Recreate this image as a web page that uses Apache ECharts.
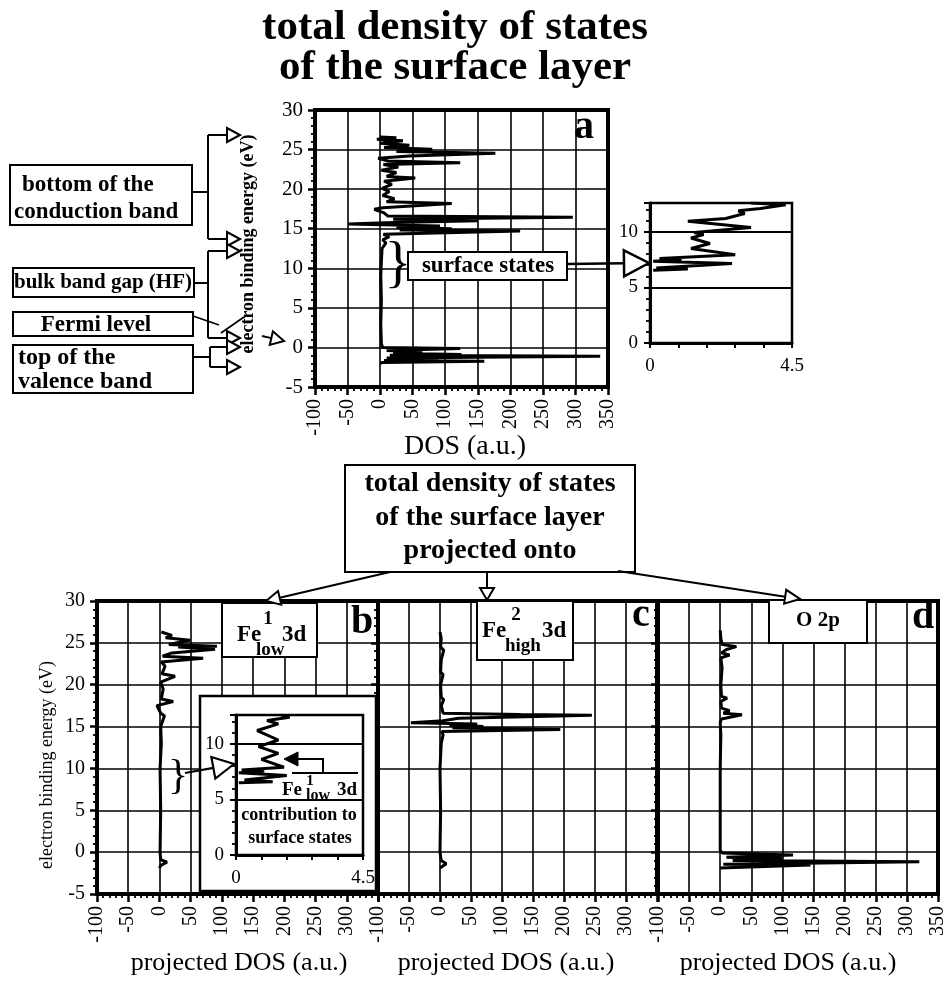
<!DOCTYPE html>
<html><head><meta charset="utf-8">
<script src="https://cdn.jsdelivr.net/npm/echarts@6.0.0/dist/echarts.min.js"></script>
<style>html,body{margin:0;padding:0;background:#fff;}#chart{width:952px;height:983px;}</style>
</head><body><div id="chart"></div>
<script>
const SERIF = '"Liberation Serif","Times New Roman",Times,serif';

// ---------- DATA: [DOS (a.u.), electron binding energy (eV)] ----------
const dosRange = [-100, 350];          // x range of main panels
const dosStep = 50;
const energyRange = [-5, 30];          // y range of main panels
const energyStep = 5;
const insetDosRange = [0, 4.5];
const insetDosStep = 0.9;
const insetEnergyRange = [0, 12.6];

const totalDOS_a = [
  [0,-2.0],[4,-1.9],[160,-1.75],[6,-1.65],[90,-1.5],[10,-1.35],[338,-1.1],[15,-1.0],[125,-0.9],[20,-0.75],
  [65,-0.55],[10,-0.4],[123,-0.15],[4,0.0],[2,0.4],[1,3],[2,6],[1,9],[2,11],[3,12.5],[9,13.2],[4,13.6],
  [14,14.0],[5,14.3],[215,14.7],[30,14.85],[110,15.0],[25,15.15],[92,15.35],[-49,15.6],[8,15.75],[150,16.0],
  [20,16.2],[296,16.45],[12,16.6],[6,17.0],[-9,17.45],[4,17.65],[110,18.2],[10,18.4],[22,18.8],[4,19.2],
  [14,19.7],[3,20.1],[18,20.6],[6,21.0],[54,21.4],[10,21.6],[25,22.1],[2,22.4],[28,22.8],[5,23.1],
  [123,23.35],[12,23.55],[-3,23.9],[45,24.2],[177,24.55],[25,24.75],[80,25.05],[6,25.25],[45,25.55],
  [0,25.8],[35,26.1],[-5,26.3],[25,26.5],[0,26.6]
];
const surfaceInset_a = [
  [0.1,6.55],[1.2,6.65],[0.2,6.75],[2.6,7.15],[0.1,7.35],[1.0,7.5],[0.3,7.6],[2.7,7.95],[1.3,8.5],
  [1.9,8.95],[1.3,9.45],[1.7,9.75],[1.4,9.95],[3.2,10.4],[1.2,10.95],[2.4,11.2],[3.0,11.65],[2.8,11.9],
  [3.5,12.1],[4.3,12.45],[3.2,12.6]
];
const fe1low_b = [
  [0,-1.9],[2,-1.6],[12,-1.2],[2,-0.9],[1,0],[2,5],[1,10],[3,13],[2,15],[8,16.3],[2,16.6],[-4,17.5],
  [22,18.0],[3,18.3],[6,19.5],[2,20.3],[25,21.0],[4,21.3],[9,22.2],[3,22.7],[70,23.15],[5,23.4],[20,23.8],
  [89,24.25],[30,24.5],[92,24.6],[15,24.8],[49,25.3],[10,25.6],[20,25.9],[3,26.3]
];
const fe1lowInset_b = [
  [0.1,6.5],[1.3,6.6],[0.3,6.75],[1.8,7.15],[0.1,7.4],[1.0,7.55],[0.2,7.65],[1.7,7.9],[0.9,8.6],[1.5,9.15],
  [0.8,9.75],[1.5,10.35],[0.75,11.2],[1.5,11.8],[1.1,12.1],[1.9,12.4],[1.6,12.6]
];
const fe2high_c = [
  [0,-1.9],[10,-1.4],[2,-1.0],[0,0],[1,5],[0,10],[2,13],[5,14.0],[3,14.4],[194,14.65],[20,14.85],[70,15.0],
  [15,15.2],[60,15.3],[-47,15.45],[5,15.7],[30,16.0],[245,16.35],[130,16.45],[5,16.6],[2,17.5],[6,18.2],
  [2,18.5],[1,20],[5,21.2],[1,21.5],[2,23],[6,24.1],[1,24.5],[2,25.5],[0,26.3]
];
const o2p_d = [
  [0,-1.9],[3,-1.75],[145,-1.55],[5,-1.45],[320,-1.15],[20,-1.0],[100,-0.75],[10,-0.6],[117,-0.35],[3,-0.1],
  [0,0.2],[0,5],[0,10],[1,14],[0,15.5],[2,15.9],[35,16.4],[5,16.6],[15,16.9],[2,17.2],[1,18.0],[11,18.4],
  [2,18.6],[1,20],[3,22],[1,23.2],[15,23.55],[2,23.8],[10,24.2],[26,24.55],[3,24.8],[1,25.5],[0,26.5]
];

// ---------- LAYOUT ----------
const chart = echarts.init(document.getElementById('chart'), null, {renderer:'canvas'});

function gridBox(left, top, width, height, bw, z) {
  return {left, top, width, height, show:true, borderColor:'#000', borderWidth:bw,
          backgroundColor:'transparent', containLabel:false, outerBoundsMode:'none', z:z||0};
}
function mainX(gi, showMax) {
  return {type:'value', gridIndex:gi, min:dosRange[0], max:dosRange[1], interval:dosStep,
    axisLine:{show:true, onZero:false, lineStyle:{color:'#000', width:4}},
    axisTick:{show:true, length:8, lineStyle:{color:'#000', width:2.5}},
    minorTick:{show:true, splitNumber:5, length:4, lineStyle:{color:'#000', width:1.8}},
    splitLine:{show:true, lineStyle:{color:'#000', width:1.6}},
    axisLabel:{rotate:90, fontSize:20, color:'#000', margin:12, showMaxLabel:showMax, showMinLabel:true, fontFamily:SERIF}};
}
function mainY(gi, showLabel, fs) {
  return {type:'value', gridIndex:gi, min:energyRange[0], max:energyRange[1], interval:energyStep,
    axisLine:{show:true, onZero:false, lineStyle:{color:'#000', width:4}},
    axisTick:{show:true, length:7, lineStyle:{color:'#000', width:2.5}},
    minorTick:{show:true, splitNumber:5, length:4, lineStyle:{color:'#000', width:1.8}},
    splitLine:{show:true, lineStyle:{color:'#000', width:1.6}},
    axisLabel:{show:showLabel, fontSize:fs, color:'#000', margin:12, fontFamily:SERIF}};
}
function insetX(gi, z) {
  return {type:'value', gridIndex:gi, min:insetDosRange[0], max:insetDosRange[1], interval:insetDosStep, z:z||0,
    axisLine:{show:true, onZero:false, lineStyle:{color:'#000', width:3}},
    axisTick:{show:true, length:5, lineStyle:{color:'#000', width:2}},
    splitLine:{show:false},
    axisLabel:{fontSize:19, color:'#000', margin:14, fontFamily:SERIF,
      formatter:v => (Math.abs(v) < 1e-9 ? '0' : (Math.abs(v - 4.5) < 1e-6 ? '4.5' : ''))}};
}
function insetY(gi, z) {
  return {type:'value', gridIndex:gi, min:insetEnergyRange[0], max:insetEnergyRange[1], interval:5, z:z||0,
    axisLine:{show:true, onZero:false, lineStyle:{color:'#000', width:3}},
    axisTick:{show:true, length:6, lineStyle:{color:'#000', width:2}},
    minorTick:{show:true, splitNumber:5, length:4, lineStyle:{color:'#000', width:1.8}},
    splitLine:{show:true, lineStyle:{color:'#000', width:1.8}},
    axisLabel:{fontSize:19, color:'#000', margin:12, fontFamily:SERIF,
      formatter:v => (Math.abs(v % 5) < 1e-6 ? String(v) : '')}};
}
function curve(xi, data, z, w) {
  return {type:'line', xAxisIndex:xi, yAxisIndex:xi, data:data, showSymbol:false, symbol:'none',
          lineStyle:{color:'#000', width:w||3}, z:z||3, clip:true, silent:true};
}

// ---------- GRAPHIC HELPERS ----------
const G = [];
function txt(s, x, y, font, align, valign, opts) {
  const o = Object.assign({type:'text', x:x, y:y, z:30,
    style:{text:s, font:font, fill:'#000', textAlign:align||'center', textVerticalAlign:valign||'middle'}}, opts||{});
  G.push(o);
}
function box(x, y, w, h, lw, z) {
  G.push({type:'rect', z:z||25, shape:{x, y, width:w, height:h}, style:{fill:'#fff', stroke:'#000', lineWidth:lw||2}});
}
function pl(points, lw, z) {
  G.push({type:'polyline', z:z||26, shape:{points}, style:{stroke:'#000', lineWidth:lw||2, fill:null}});
}
function arrow(fx, fy, tx, ty, len, half, lw, filled) {
  const dx = tx - fx, dy = ty - fy, L = Math.hypot(dx, dy);
  const ux = dx / L, uy = dy / L;
  const bx = tx - ux * len, by = ty - uy * len;
  pl([[fx, fy], [bx, by]], lw);
  G.push({type:'polygon', z:27, shape:{points:[[tx, ty], [bx - uy * half, by + ux * half], [bx + uy * half, by - ux * half]]},
          style:{fill: filled ? '#000' : '#fff', stroke:'#000', lineWidth:lw||2}});
}
const B = (s) => 'bold ' + s + 'px ' + SERIF;
const R = (s) => s + 'px ' + SERIF;

// titles
txt('total density of states', 455, 28, B(43));
txt('of the surface layer', 455, 68, B(43));

// left legend boxes
box(10, 165, 182, 60, 2);
txt('bottom of the', 22, 185, B(23), 'left');
txt('conduction band', 14, 212, B(23), 'left');
box(13, 268, 181, 29, 2);
txt('bulk band gap (HF)', 103, 283, B(21));
box(13, 312, 180, 24, 2);
txt('Fermi level', 96, 325, B(23));
box(13, 345, 180, 48, 2);
txt('top of the', 18, 358, B(24), 'left');
txt('valence band', 18, 382, B(24), 'left');

pl([[192,192],[208,192]], 2); pl([[208,135],[208,239]], 2);
arrow(208,135,240,135,13,7,2); arrow(208,239,240,239,13,7,2);
pl([[194,283],[208,283]], 2); pl([[208,251],[208,338]], 2);
arrow(208,251,240,251,13,7,2); arrow(208,338,240,338,13,7,2);
pl([[193,316],[219,325]], 1.8); pl([[221,333],[244,317]], 1.8);
arrow(262,336,284,341,13,7,2);
pl([[193,357],[210,357]], 2); pl([[210,347],[210,367]], 2);
arrow(210,347,240,347,13,7,2); arrow(210,367,240,367,13,7,2);

// axis names
txt('electron binding energy (eV)', 248, 244, B(18), 'center', 'middle', {rotation: Math.PI/2});
txt('DOS (a.u.)', 465, 447, R(28));
txt('electron binding energy (eV)', 47, 765, R(18), 'center', 'middle', {rotation: Math.PI/2});
txt('projected DOS (a.u.)', 239, 963, R(26));
txt('projected DOS (a.u.)', 506, 963, R(26));
txt('projected DOS (a.u.)', 788, 963, R(26));

// panel a annotations
txt('a', 584, 128, B(40));
txt('}', 398, 266, R(56));
box(408, 252, 159, 28, 2);
txt('surface states', 488, 266, B(23));
arrow(567, 264, 649, 263, 25, 13, 2.5);

// center box
box(345, 465, 290, 107, 2);
txt('total density of states', 490, 484, B(28));
txt('of the surface layer', 490, 518, B(28));
txt('projected onto', 490, 551, B(28));
arrow(390, 572, 266, 601, 14, 7, 2);
arrow(487, 572, 487, 600, 12, 7, 2);
arrow(618, 571, 800, 599, 15, 7, 2);

// panel labels
box(222, 603, 95, 54, 2);
txt('Fe', 237, 635, B(23), 'left');
txt('1', 268, 619, B(19));
txt('low', 256, 650, B(19), 'left');
txt('3d', 282, 635, B(23), 'left');
txt('b', 362, 623, B(40));

box(477, 601, 96, 59, 2);
txt('Fe', 482, 631, B(23), 'left');
txt('2', 516, 615, B(19));
txt('high', 505, 646, B(19), 'left');
txt('3d', 542, 631, B(23), 'left');
txt('c', 641, 616, B(40));

box(769, 600, 98, 43, 2);
txt('O 2p', 818, 621, B(21));
txt('d', 923, 618, B(40));

// inset b frame + annotations
G.push({type:'rect', z:5, shape:{x:200, y:696, width:176, height:195}, style:{fill:'#fff', stroke:'#000', lineWidth:2.5}});
G.push({type:'polygon', z:27, shape:{points:[[284,759],[298,752],[298,766]]}, style:{fill:'#000', stroke:'#000', lineWidth:1}});
pl([[297,759],[323,759],[323,773]], 2);
pl([[292,773],[358,773]], 2);
txt('Fe', 282, 790, B(19), 'left');
txt('1', 310, 781, B(15));
txt('low', 306, 796, B(16), 'left');
txt('3d', 337, 790, B(19), 'left');
txt('contribution to', 299, 815, B(18));
txt('surface states', 300, 838, B(18));
txt('}', 178, 777, R(42));
arrow(185, 773, 234, 764, 21, 11, 2.2);

const option = {
  animation:false,
  backgroundColor:'#fff',
  textStyle:{fontFamily:SERIF, color:'#000'},
  grid:[
    gridBox(315, 110, 293, 277, 4),
    gridBox(650, 203, 142, 140, 2.5),
    gridBox(97, 601, 281, 293, 4),
    gridBox(378, 601, 279, 293, 4),
    gridBox(658, 601, 280, 293, 4),
    gridBox(236, 715, 127, 140, 2.5, 6)
  ],
  xAxis:[ mainX(0, true), insetX(1), mainX(2, false), mainX(3, false), mainX(4, true), insetX(5, 6) ],
  yAxis:[ mainY(0, true, 21), insetY(1), mainY(2, true, 20), mainY(3, false, 20), mainY(4, false, 20), insetY(5, 6) ],
  series:[
    curve(0, totalDOS_a),
    curve(1, surfaceInset_a, 3, 3),
    curve(2, fe1low_b),
    curve(3, fe2high_c),
    curve(4, o2p_d),
    curve(5, fe1lowInset_b, 7, 3)
  ],
  graphic:{elements:G}
};
chart.setOption(option);
</script>
</body></html>
